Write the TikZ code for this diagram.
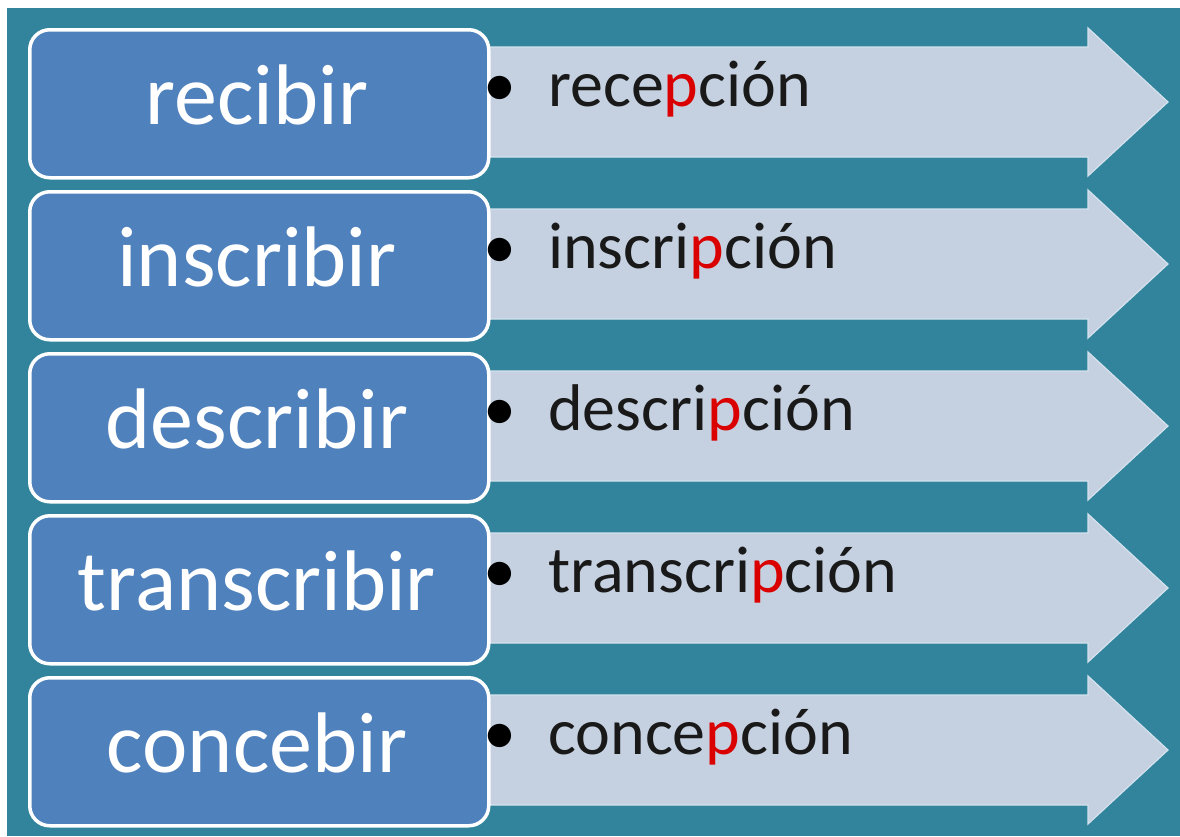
\documentclass[tikz,border=0pt]{standalone}
\usepackage{fontspec}
\setmainfont{Carlito}
\definecolor{bgteal}{RGB}{49,132,155}
\definecolor{boxblue}{RGB}{79,129,189}
\definecolor{arrowfill}{RGB}{197,209,224}
\definecolor{arrowedge}{RGB}{212,226,238}
\definecolor{redp}{RGB}{218,0,0}
\newcommand{\rp}{\textcolor{redp}{p}}
\tikzset{
  boxst/.style={draw=white, line width=3.5pt, fill=boxblue, rounded corners=20pt,
    minimum width=459pt, minimum height=148pt, inner sep=0pt, anchor=north west},
  lefttext/.style={text=white, font=\fontsize{86}{86}\selectfont, inner sep=0pt, anchor=base},
  righttext/.style={text=black!90, font=\fontsize{66}{66}\selectfont, inner sep=0pt, anchor=base west},
  bulletst/.style={text=black, font=\fontsize{66}{66}\selectfont, inner sep=0pt, anchor=base},
  arrowst/.style={fill=arrowfill, draw=arrowedge, line width=1.2pt, line join=miter}
}
\begin{document}
\begin{tikzpicture}[x=1pt,y=-1pt]
\useasboundingbox (0,0) rectangle (1180,836);
\fill[white] (0,0) rectangle (1180,836);
\fill[bgteal] (7,8) rectangle (1180,836);
\foreach \i/\l/\r in {0/recibir/{rece\rp ción},1/inscribir/{inscri\rp ción},2/describir/{descri\rp ción},3/transcribir/{transcri\rp ción},4/concebir/{conce\rp ción}}{
  \pgfmathsetmacro\t{28+162*\i}
  \coordinate (a\i) at (470,\t+19);
  \fill[arrowst] (a\i) -- (1088,\t+19) -- (1088,\t) -- (1168,\t+74) -- (1088,\t+148) -- (1088,\t+129) -- (470,\t+129) -- cycle;
  \node[boxst] (box\i) at (28,\t) {};
  \node[lefttext] (lt\i) at (257,\t+96) {\l};
  \node[bulletst] (bu\i) at (500,\t+78) {\textbullet};
  \node[righttext] (rt\i) at (548,\t+78) {\r};
}
\end{tikzpicture}
\end{document}
